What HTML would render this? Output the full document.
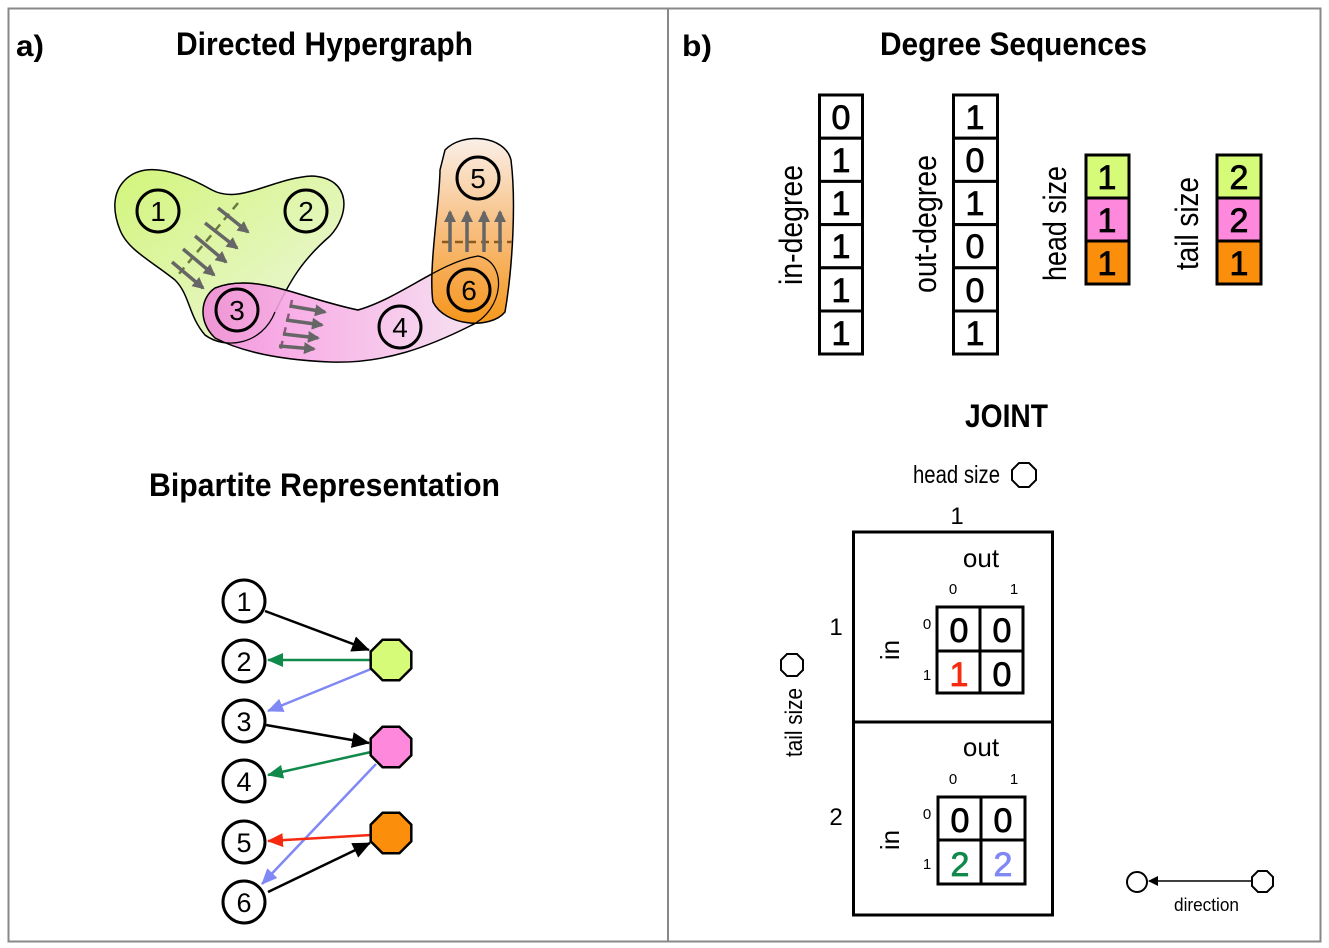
<!DOCTYPE html>
<html><head><meta charset="utf-8"><style>
html,body{margin:0;padding:0;background:#fff}
svg{display:block}
.t{font-family:"Liberation Sans Narrow","Liberation Sans",sans-serif}
.h{font-family:"Liberation Sans Narrow","Liberation Sans",sans-serif;font-weight:bold}
.n{font-family:"Liberation Sans",sans-serif}
</style></head><body>
<svg width="1329" height="948" viewBox="0 0 1329 948" xmlns="http://www.w3.org/2000/svg">
<defs>
<linearGradient id="gg" x1="0" y1="0" x2="1" y2="1"><stop offset="0" stop-color="#d2f57a"/><stop offset="1" stop-color="#eef6e2"/></linearGradient>
<linearGradient id="pg" x1="0" y1="0" x2="1" y2="0"><stop offset="0" stop-color="#f08ad8"/><stop offset="0.3" stop-color="#f7a6e4"/><stop offset="1" stop-color="#f5e4f0"/></linearGradient>
<linearGradient id="og" x1="0" y1="0" x2="0" y2="1"><stop offset="0" stop-color="#faeee6"/><stop offset="0.5" stop-color="#f7b872"/><stop offset="1" stop-color="#f5900a"/></linearGradient>
<marker id="ak" markerWidth="10" markerHeight="10" refX="9" refY="5" orient="auto" markerUnits="userSpaceOnUse"><path d="M0,0 L10,5 L0,10 Z" fill="#000"/></marker>
<marker id="ag" markerWidth="16" markerHeight="14" refX="15" refY="7" orient="auto" markerUnits="userSpaceOnUse"><path d="M0,0 L16,7 L0,14 Z" fill="#108a4a"/></marker>
<marker id="ab" markerWidth="16" markerHeight="14" refX="15" refY="7" orient="auto" markerUnits="userSpaceOnUse"><path d="M0,0 L16,7 L0,14 Z" fill="#8088f5"/></marker>
<marker id="ar" markerWidth="16" markerHeight="14" refX="15" refY="7" orient="auto" markerUnits="userSpaceOnUse"><path d="M0,0 L16,7 L0,14 Z" fill="#f52a10"/></marker>
<marker id="aK" markerWidth="18" markerHeight="16" refX="17" refY="8" orient="auto" markerUnits="userSpaceOnUse"><path d="M0,0 L18,8 L0,16 Z" fill="#000"/></marker>
<marker id="gr" markerWidth="12" markerHeight="12" refX="10" refY="6" orient="auto" markerUnits="userSpaceOnUse"><path d="M0,0 L12,6 L0,12 Z" fill="#666"/></marker>
</defs>
<rect x="8.5" y="8.5" width="1312" height="933" fill="none" stroke="#888" stroke-width="2"/>
<line x1="668" y1="8" x2="668" y2="942" stroke="#888" stroke-width="2"/>

<text x="16" y="56" class="h" font-size="30" textLength="28" lengthAdjust="spacingAndGlyphs">a)</text>
<text x="176" y="55" class="h" font-size="32" textLength="297" lengthAdjust="spacingAndGlyphs">Directed Hypergraph</text>
<text x="149" y="496" class="h" font-size="32" textLength="351" lengthAdjust="spacingAndGlyphs">Bipartite Representation</text>
<text x="682" y="56" class="h" font-size="30" textLength="30" lengthAdjust="spacingAndGlyphs">b)</text>
<text x="880" y="55" class="h" font-size="32" textLength="267" lengthAdjust="spacingAndGlyphs">Degree Sequences</text>
<text x="965" y="427" class="h" font-size="32" textLength="83" lengthAdjust="spacingAndGlyphs">JOINT</text>

<!-- hypergraph -->
<path d="M125,180 C145,160 180,172 212,190 C240,205 272,178 312,176 C352,178 350,215 330,236 C300,262 290,282 275,312 C262,345 225,350 205,335 C188,315 190,295 175,280 C150,260 128,250 120,230 C112,210 113,192 125,180 Z" fill="url(#gg)" stroke="#000" stroke-width="1.5"/>
<path d="M215,288 C255,272 300,298 358,310 C400,298 440,262 478,256 C508,262 505,310 470,326 C430,346 385,364 330,362 C282,360 242,352 215,338 C198,322 200,298 215,288 Z" fill="url(#pg)" fill-opacity="0.9" stroke="#000" stroke-width="1.5"/>
<path d="M445,150 C462,132 505,135 511,160 C516,200 513,265 505,312 C490,330 445,326 433,302 C428,270 440,200 440,170 Z" fill="url(#og)" fill-opacity="0.92" stroke="#000" stroke-width="1.5"/>
<path d="M215,288 C255,272 300,298 358,310 C400,298 440,262 478,256 C508,262 505,310 470,326" fill="none" stroke="#000" stroke-width="1.2"/>
<path d="M275,312 C262,345 225,350 205,335" fill="none" stroke="#000" stroke-width="1.2"/>
<line x1="238" y1="203" x2="178" y2="275" stroke="#6a7a40" stroke-width="2.5" stroke-dasharray="8,6"/>
<g stroke="#666" stroke-width="3.5" marker-end="url(#gr)">
<line x1="218" y1="208" x2="248" y2="232"/><line x1="205" y1="223" x2="237" y2="248"/><line x1="195" y1="236" x2="226" y2="262"/><line x1="183" y1="249" x2="214" y2="275"/><line x1="172" y1="262" x2="203" y2="288"/>
</g>
<line x1="292" y1="300" x2="280" y2="352" stroke="#8a5a7a" stroke-width="2.5" stroke-dasharray="8,6"/>
<g stroke="#666" stroke-width="3.5" marker-end="url(#gr)">
<line x1="290" y1="306" x2="325" y2="312"/><line x1="286" y1="320" x2="322" y2="325"/><line x1="283" y1="334" x2="318" y2="338"/><line x1="279" y1="346" x2="314" y2="349"/>
</g>
<line x1="442" y1="242" x2="512" y2="242" stroke="#8a5a20" stroke-width="2.5" stroke-dasharray="8,5"/>
<g stroke="#666" stroke-width="3.5" marker-end="url(#gr)">
<line x1="450" y1="252" x2="450" y2="212"/><line x1="467" y1="252" x2="467" y2="212"/><line x1="484" y1="252" x2="484" y2="212"/><line x1="500" y1="252" x2="500" y2="212"/>
</g>
<g fill="none" stroke="#000" stroke-width="3">
<circle cx="158" cy="211" r="21"/><circle cx="306" cy="211" r="21"/><circle cx="237" cy="310" r="21"/><circle cx="400" cy="327" r="21"/><circle cx="478" cy="178" r="21"/><circle cx="469" cy="290" r="21"/>
</g>
<g class="n" font-size="28" text-anchor="middle">
<text x="158" y="221">1</text><text x="306" y="221">2</text><text x="237" y="320">3</text><text x="400" y="337">4</text><text x="478" y="188">5</text><text x="469" y="300">6</text>
</g>

<!-- bipartite -->
<line x1="265" y1="611" x2="369" y2="650" stroke="#000" stroke-width="2.5" marker-end="url(#aK)"/>
<line x1="370" y1="660" x2="268" y2="660" stroke="#108a4a" stroke-width="2.5" marker-end="url(#ag)"/>
<line x1="371" y1="669" x2="268" y2="711" stroke="#8088f5" stroke-width="2.5" marker-end="url(#ab)"/>
<line x1="266" y1="725" x2="369" y2="743" stroke="#000" stroke-width="2.5" marker-end="url(#aK)"/>
<line x1="371" y1="752" x2="268" y2="775" stroke="#108a4a" stroke-width="2.5" marker-end="url(#ag)"/>
<line x1="376" y1="764" x2="262" y2="884" stroke="#8088f5" stroke-width="2.5" marker-end="url(#ab)"/>
<line x1="371" y1="835" x2="268" y2="841" stroke="#f52a10" stroke-width="2.5" marker-end="url(#ar)"/>
<line x1="268" y1="892" x2="370" y2="843" stroke="#000" stroke-width="2.5" marker-end="url(#aK)"/>
<g fill="#fff" stroke="#000" stroke-width="3">
<circle cx="244" cy="601" r="21"/><circle cx="244" cy="661" r="21"/><circle cx="244" cy="721" r="21"/><circle cx="244" cy="781" r="21"/><circle cx="244" cy="842" r="21"/><circle cx="244" cy="902" r="21"/>
</g>
<g class="n" font-size="27" text-anchor="middle">
<text x="244" y="611">1</text><text x="244" y="671">2</text><text x="244" y="731">3</text><text x="244" y="791">4</text><text x="244" y="852">5</text><text x="244" y="912">6</text>
</g>
<g stroke="#000" stroke-width="2.5">
<polygon fill="#d6fb78" points="382.6,639.7 399.4,639.7 411.3,651.6 411.3,668.4 399.4,680.3 382.6,680.3 370.7,668.4 370.7,651.6"/>
<polygon fill="#fd88dc" points="382.6,726.7 399.4,726.7 411.3,738.6 411.3,755.4 399.4,767.3 382.6,767.3 370.7,755.4 370.7,738.6"/>
<polygon fill="#fb8e0a" points="382.6,812.7 399.4,812.7 411.3,824.6 411.3,841.4 399.4,853.3 382.6,853.3 370.7,841.4 370.7,824.6"/>
</g>

<!-- degree sequences -->
<g fill="#fff" stroke="#000" stroke-width="3">
<rect x="819.5" y="95" width="43" height="43.2"/><rect x="819.5" y="138.2" width="43" height="43.2"/><rect x="819.5" y="181.4" width="43" height="43.2"/><rect x="819.5" y="224.6" width="43" height="43.2"/><rect x="819.5" y="267.8" width="43" height="43.2"/><rect x="819.5" y="311" width="43" height="43"/>
<rect x="953.5" y="95" width="44" height="43.2"/><rect x="953.5" y="138.2" width="44" height="43.2"/><rect x="953.5" y="181.4" width="44" height="43.2"/><rect x="953.5" y="224.6" width="44" height="43.2"/><rect x="953.5" y="267.8" width="44" height="43.2"/><rect x="953.5" y="311" width="44" height="43"/>
<rect x="1086" y="155" width="43" height="43" fill="#d6fb78"/><rect x="1086" y="198" width="43" height="43" fill="#fd88dc"/><rect x="1086" y="241" width="43" height="43" fill="#fb8e0a"/>
<rect x="1217" y="155" width="44" height="43" fill="#d6fb78"/><rect x="1217" y="198" width="44" height="43" fill="#fd88dc"/><rect x="1217" y="241" width="44" height="43" fill="#fb8e0a"/>
</g>
<g class="n" font-size="34" text-anchor="middle" stroke="#000" stroke-width="0.8">
<text x="841" y="129">0</text><text x="841" y="172">1</text><text x="841" y="215">1</text><text x="841" y="258">1</text><text x="841" y="302">1</text><text x="841" y="345">1</text>
<text x="975" y="129">1</text><text x="975" y="172">0</text><text x="975" y="215">1</text><text x="975" y="258">0</text><text x="975" y="302">0</text><text x="975" y="345">1</text>
<text x="1107" y="189">1</text><text x="1107" y="232">1</text><text x="1107" y="275">1</text>
<text x="1239" y="189">2</text><text x="1239" y="232">2</text><text x="1239" y="275">1</text>
</g>
<g class="t" font-size="32">
<text transform="translate(802,285) rotate(-90)" textLength="120" lengthAdjust="spacingAndGlyphs">in-degree</text>
<text transform="translate(936,293) rotate(-90)" textLength="138" lengthAdjust="spacingAndGlyphs">out-degree</text>
<text transform="translate(1066,281) rotate(-90)" textLength="115" lengthAdjust="spacingAndGlyphs">head size</text>
<text transform="translate(1198,270) rotate(-90)" textLength="93" lengthAdjust="spacingAndGlyphs">tail size</text>
</g>

<!-- joint -->
<text x="913" y="483" class="t" font-size="25" textLength="87" lengthAdjust="spacingAndGlyphs">head size</text>
<polygon points="1019,463 1029,463 1036,470 1036,480 1029,487 1019,487 1012,480 1012,470" fill="none" stroke="#000" stroke-width="2"/>
<text x="957" y="524" class="t" font-size="24" text-anchor="middle">1</text>
<text transform="translate(802,757) rotate(-90)" class="t" font-size="24" textLength="69" lengthAdjust="spacingAndGlyphs">tail size</text>
<polygon points="787,654 797,654 803,660 803,670 797,676 787,676 781,670 781,660" fill="none" stroke="#000" stroke-width="2"/>
<text x="836" y="635" class="t" font-size="24" text-anchor="middle">1</text>
<text x="836" y="825" class="t" font-size="24" text-anchor="middle">2</text>
<rect x="853.5" y="532" width="199" height="383" fill="none" stroke="#000" stroke-width="3"/>
<line x1="853" y1="722" x2="1052" y2="722" stroke="#000" stroke-width="3"/>
<g class="t" font-size="26" text-anchor="middle">
<text x="981" y="567">out</text><text x="981" y="756">out</text>
<text transform="translate(899,650) rotate(-90)">in</text>
<text transform="translate(899,840) rotate(-90)">in</text>
</g>
<g class="t" font-size="15" text-anchor="middle">
<text x="953" y="594">0</text><text x="1014" y="594">1</text><text x="927" y="629">0</text><text x="927" y="680">1</text>
<text x="953" y="784">0</text><text x="1014" y="784">1</text><text x="927" y="819">0</text><text x="927" y="869">1</text>
</g>
<g fill="none" stroke="#000" stroke-width="3">
<rect x="937" y="607" width="86" height="86"/><line x1="980" y1="607" x2="980" y2="693"/><line x1="937" y1="651" x2="1023" y2="651"/>
<rect x="938" y="797" width="87" height="87"/><line x1="981" y1="797" x2="981" y2="884"/><line x1="938" y1="840" x2="1025" y2="840"/>
</g>
<g class="n" font-size="34" text-anchor="middle" stroke-width="0.8">
<text x="959" y="642" stroke="#000">0</text><text x="1002" y="642" stroke="#000">0</text><text x="959" y="686" fill="#f52a10" stroke="#f52a10">1</text><text x="1002" y="686" stroke="#000">0</text>
<text x="960" y="832" stroke="#000">0</text><text x="1003" y="832" stroke="#000">0</text><text x="960" y="876" fill="#108a4a" stroke="#108a4a">2</text><text x="1003" y="876" fill="#8088f5" stroke="#8088f5">2</text>
</g>
<circle cx="1137" cy="882" r="10" fill="none" stroke="#000" stroke-width="2"/>
<line x1="1252" y1="881" x2="1149" y2="881" stroke="#000" stroke-width="1.5" marker-end="url(#ak)"/>
<polygon points="1258,871 1267,871 1273,877 1273,886 1267,892 1258,892 1252,886 1252,877" fill="#fff" stroke="#000" stroke-width="2"/>
<text x="1174" y="911" class="t" font-size="18" textLength="65" lengthAdjust="spacingAndGlyphs">direction</text>
</svg>
</body></html>
